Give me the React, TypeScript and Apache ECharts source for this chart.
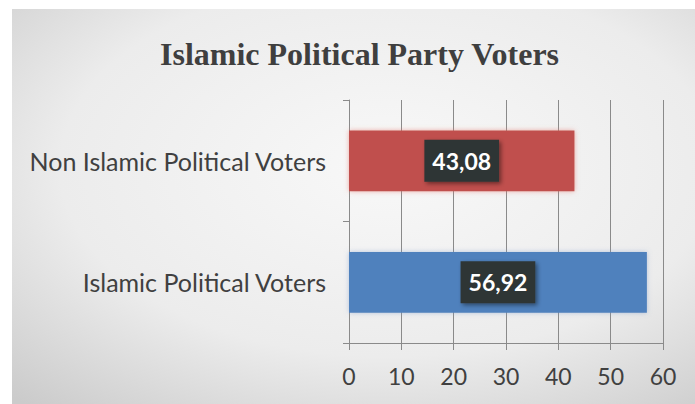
import React, { useEffect, useRef } from "react";
import * as echarts from "echarts";

const categories = ["Islamic Political Voters", "Non Islamic Political Voters"];
const values = [56.92, 43.08];
const barColors = ["#4f81bd", "#c0504d"];
const xTicks = [0, 10, 20, 30, 40, 50, 60];
const titleText = "Islamic Political Party Voters";

export default function App() {
  const ref = useRef<HTMLDivElement>(null);
  useEffect(() => {
    if (!ref.current) return;
    const chart = echarts.init(ref.current, null, { renderer: "svg" });
    chart.setOption({
      animation: false,
      backgroundColor: "#ffffff",
      graphic: [
        {
          type: "rect",
          z: -10,
          silent: true,
          shape: { x: 12, y: 9, width: 683, height: 395 },
          style: {
            fill: new echarts.graphic.RadialGradient(0.55, 0.4, 0.8, [
              { offset: 0, color: "#f8f8f8" },
              { offset: 0.6, color: "#ececec" },
              { offset: 1, color: "#cbcbcb" },
            ]),
          },
        },
      ],
      title: {
        text: titleText,
        left: 155,
        top: 33,
        textStyle: {
          fontFamily: "Liberation Serif",
          fontWeight: "bold",
          fontSize: 32,
          color: "#3f3f3f",
        },
      },
      grid: { left: 349, right: 32, top: 100, bottom: 61, containLabel: false },
      xAxis: {
        type: "value",
        min: 0,
        max: 60,
        interval: 10,
        axisLine: { show: true, lineStyle: { color: "#8a8a8a", width: 1 } },
        axisTick: { show: true, length: 7, lineStyle: { color: "#8a8a8a" } },
        splitLine: { show: true, lineStyle: { color: "#8a8a8a", width: 1 } },
        axisLabel: {
          margin: 21,
          fontFamily: "Lato",
          fontSize: 23,
          color: "#404040",
          formatter: (v: number) => (xTicks.includes(v) ? String(v) : ""),
        },
      },
      yAxis: {
        type: "category",
        data: categories,
        axisLine: { show: true, lineStyle: { color: "#8a8a8a", width: 1 } },
        axisTick: { show: true, length: 6, lineStyle: { color: "#8a8a8a" } },
        axisLabel: {
          margin: 23,
          fontFamily: "Lato",
          fontSize: 25,
          color: "#404040",
        },
      },
      series: [
        {
          type: "bar",
          barCategoryGap: "50%",
          data: values.map((v, i) => ({
            value: v,
            itemStyle: {
              color: barColors[i],
              shadowBlur: 5,
              shadowColor: i === 1 ? "rgba(230,120,110,0.6)" : "rgba(120,150,200,0.5)",
            },
          })),
          label: {
            show: true,
            position: "inside",
            formatter: (p: any) => String(p.value).replace(".", ","),
            fontFamily: "Lato",
            fontWeight: "bold",
            fontSize: 23,
            color: "#ffffff",
            backgroundColor: "#2f3636",
            padding: [10, 8, 9, 8],
            shadowBlur: 4,
            shadowColor: "rgba(0,0,0,0.45)",
            shadowOffsetX: 2,
            shadowOffsetY: 2,
          },
        },
      ],
    });
    return () => chart.dispose();
  }, []);
  return (
    <div
      ref={ref}
      style={{ position: "absolute", left: 0, top: 0, width: 695, height: 404 }}
    />
  );
}
